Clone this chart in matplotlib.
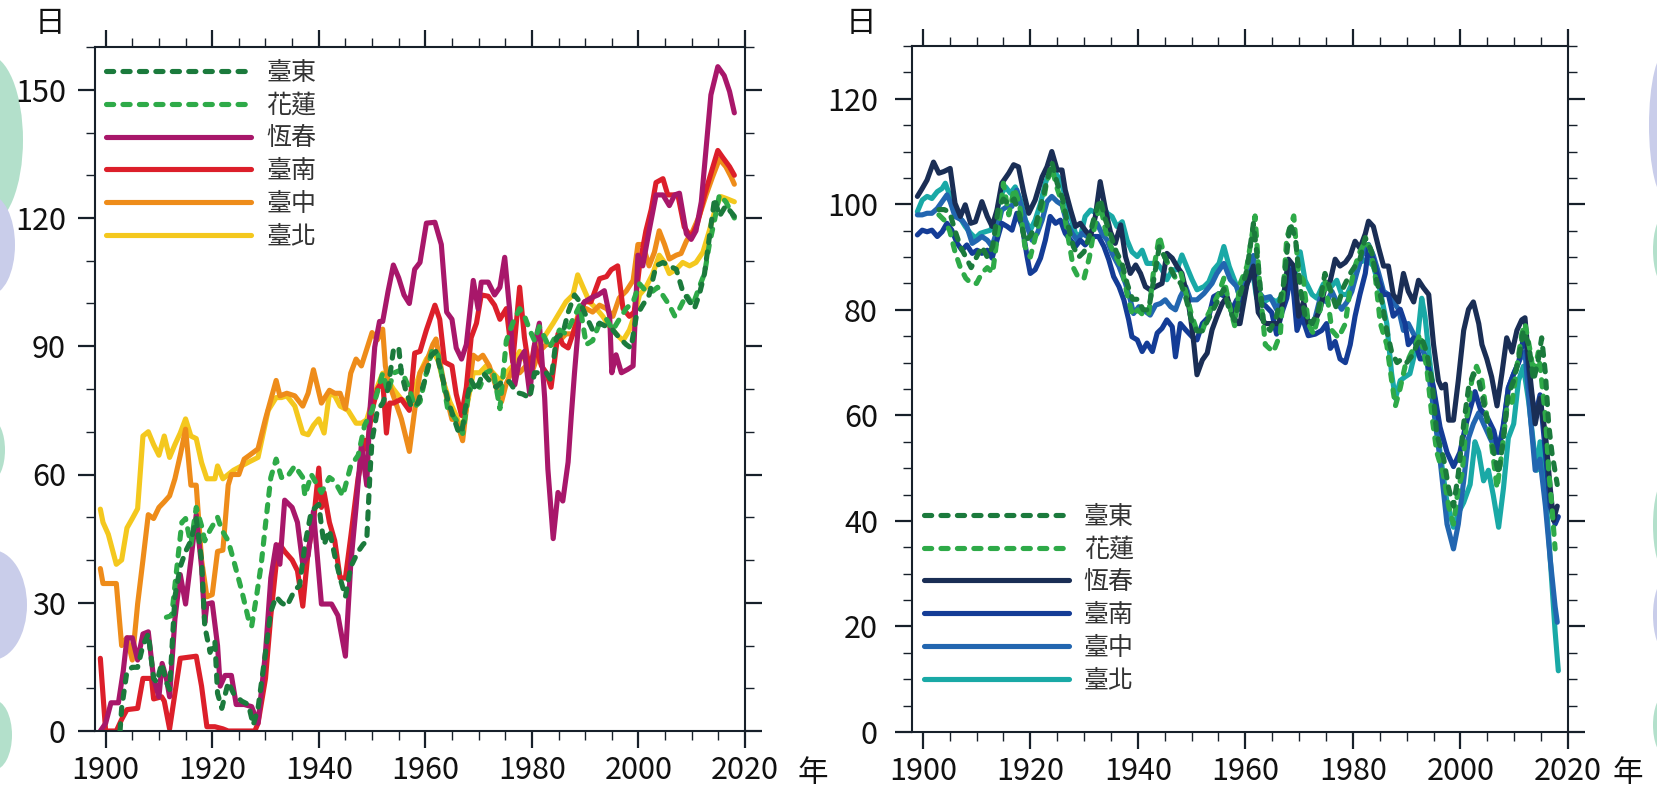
import matplotlib.pyplot as plt
from matplotlib.patches import Ellipse
from matplotlib.ticker import MultipleLocator

plt.rcParams['font.family'] = ['Noto Sans CJK TC', 'DejaVu Sans']

stations = ['臺東', '花蓮', '恆春', '臺南', '臺中', '臺北']

# ---- left panel: days per year ----
l_taitung_yr = [1902.7, 1903, 1904, 1905, 1906, 1907, 1908, 1909, 1909.6, 1910.5, 1911.4, 1912, 1913, 1914, 1915,
                1916, 1917, 1918, 1918.6, 1919.6, 1920.5, 1921, 1921.8, 1923, 1924, 1925.5, 1926.8, 1927.7, 1928.6,
                1930, 1931, 1932, 1933, 1934, 1935.5, 1936.4, 1937.4, 1938.6, 1940, 1940.5, 1941, 1942, 1943, 1944,
                1945, 1946, 1947.4, 1948.3, 1949, 1949.6, 1950, 1951, 1952, 1953, 1954, 1955, 1955.5, 1956.4, 1957.4,
                1958.6, 1959.9, 1961.1, 1962, 1963, 1964.3, 1965.2, 1966.1, 1966.8, 1967.7, 1968.6, 1969.6, 1970.8,
                1972, 1973.3, 1974.6, 1975.8, 1977.1, 1978.3, 1979.6, 1980.5, 1981.4, 1982.7, 1983.6, 1984.6, 1985.8,
                1986.8, 1988, 1989, 1990.2, 1991.4, 1992.7, 1994, 1995.2, 1996.4, 1997.7, 1998.6, 1999.6, 2000.8, 2002,
                2003.3, 2004.6, 2005.8, 2007.1, 2008.3, 2009.6, 2010.5, 2011.4, 2012.4, 2013.3, 2014.3, 2015.2, 2016.4,
                2018]
l_taitung = [0, 5.3, 14, 14.9, 14.9, 20, 22.7, 12.3, 11.4, 15.8, 11.4, 9.7, 31.4, 38.4, 42,
             44.5, 49.7, 40, 24.5, 18.4, 21, 8.8, 5.3, 11.4, 8.8, 7, 6.2, 1.4, 5.3,
             18.4, 28, 31.4, 30, 29.2, 33, 34, 43.6, 51.4, 53, 48, 43.6, 47, 41, 35.8,
             31.4, 38.4, 42, 43.6, 44.5, 60, 68, 75, 76.7, 80, 89, 89.8, 83.7, 79.3, 75.8,
             76.7, 82, 87.9, 88.8, 83.8, 77, 73.8, 70.4, 69.6, 77, 82, 79.6, 83.8,
             82, 80.4, 82, 81.7, 79.2, 78.8, 77.9, 83.8, 83.8, 83.8, 82, 92, 92.9,
             97.9, 102, 100.4, 97, 93.8, 95.4, 94.6, 93.8, 92, 90.4, 89.6, 97, 99.6, 102,
             108.8, 109.6, 108.8, 108, 102.9, 100.4, 98.8, 102, 107, 115.4, 124.6, 120.4, 122.9,
             120.4]

l_hualien_yr = [1911.4, 1912.4, 1913.3, 1914.3, 1915, 1916, 1917, 1918, 1918.6, 1919.6, 1921, 1921.8, 1923, 1924,
                1925.5, 1926.8, 1927.4, 1928.3, 1929.2, 1930.2, 1931, 1932, 1933, 1934, 1935.5, 1937, 1937.4, 1938.6,
                1940.5, 1942, 1943, 1944.5, 1946, 1947.4, 1948.6, 1950, 1951, 1952, 1953, 1954, 1955.5, 1957, 1958,
                1959, 1960.2, 1961.4, 1962.4, 1963.3, 1964.3, 1965.2, 1966.1, 1967, 1968, 1968.9, 1970.2, 1971.4,
                1972.7, 1974, 1975.2, 1976.4, 1977.7, 1978.6, 1979.6, 1980.5, 1981.4, 1982.4, 1983.3, 1984.3, 1985.2,
                1986.4, 1987.7, 1989, 1990.2, 1991.4, 1992.7, 1994, 1995.2, 1996.4, 1997.7, 1999, 2000.2, 2001.4,
                2002.7, 2003.6, 2004.9, 2005.8, 2006.8, 2007.7, 2009, 2010.2, 2011.4, 2012.4, 2013.3, 2014.3, 2015.2,
                2016.4, 2018]
l_hualien = [26.6, 27, 37.5, 48.8, 49.7, 43.6, 52.3, 48, 44.5, 47, 50, 47, 44.5, 40,
             33, 26.2, 24.5, 31.4, 39, 50.6, 59.3, 63.6, 59.3, 59.3, 62, 59.3, 55, 60,
             55.8, 59.3, 58.4, 55, 62, 64.5, 71.5, 75, 79.3, 83.7, 79.3, 83.7, 84.5, 80, 75.8,
             77, 83.8, 89.6, 87.9, 82, 74.6, 73.8, 72.1, 69.6, 77.9, 82, 80.4, 83.8,
             84.6, 75.4, 91.3, 95.4, 98.8, 97.1, 93.8, 91.3, 94.6, 92, 89.6, 92, 93.8,
             92.9, 96.3, 99.6, 90.4, 91.3, 95.4, 96.3, 93.8, 96.3, 98.8, 100.4, 104.6, 102.9,
             102.9, 103.8, 101.3, 99.6, 97.1, 98.8, 102, 99.6, 103.8, 107, 113.8, 119.6, 125.4,
             123.8, 120]

l_hengchun_yr = [1899, 1900, 1901, 1902.4, 1903.3, 1904, 1905, 1906, 1907, 1908, 1909, 1910, 1910.6, 1911.4, 1912,
                 1913, 1914, 1915, 1916, 1917, 1918, 1918.6, 1919, 1920, 1921, 1921.5, 1922.4, 1923.6, 1924.5, 1926,
                 1927.4, 1928.6, 1930, 1931, 1932, 1932.7, 1933.6, 1935, 1936, 1937, 1938, 1939, 1940.5, 1942.4,
                 1943.6, 1945, 1946, 1947, 1948, 1949, 1949.6, 1950.5, 1951.4, 1952, 1953, 1954, 1955, 1956, 1957,
                 1958, 1959, 1960.2, 1961.8, 1963, 1964, 1965, 1965.8, 1966.8, 1967.7, 1969, 1969.9, 1970.5, 1971.8,
                 1973, 1974, 1974.9, 1975.8, 1976.8, 1977.7, 1978.6, 1979.6, 1980.5, 1981.4, 1982.4, 1983, 1984,
                 1984.9, 1985.8, 1986.8, 1987.4, 1988, 1989, 1989.9, 1991.1, 1992.4, 1993.6, 1994.6, 1995, 1995.8,
                 1996.8, 1998, 1999, 1999.9, 2000.8, 2002, 2003.3, 2004.6, 2005.8, 2006.8, 2007.7, 2009, 2009.9,
                 2010.8, 2011.8, 2012.7, 2013.6, 2014.9, 2016.1, 2017.1, 2018]
l_hengchun = [0, 1.8, 6.6, 6.6, 14, 21.8, 21.8, 16.6, 22.7, 23.2, 12.3, 8, 15.8, 12.3, 8,
              26.2, 36.6, 29.7, 40, 50.6, 38.4, 25.3, 29.7, 30, 20, 10.5, 13, 13, 6.2, 6.2,
              5.7, 1.8, 18.4, 35.8, 43.6, 39, 54, 52.3, 48.8, 39, 41, 51.4, 29.7, 29.7,
              27, 17.5, 39, 52.3, 67, 57.5, 75, 89.8, 95.8, 95.8, 102.8, 109, 106, 102, 100,
              108, 109.6, 118.8, 119, 113.8, 98, 96.3, 89.6, 87, 90.4, 105.4, 98.8, 105, 105,
              102, 103.8, 110.8, 98.8, 81, 87, 88.8, 78.8, 90.4, 95.4, 77.9, 61.3, 45,
              55.8, 53.8, 62.9, 73.8, 83.8, 98.8, 100.4, 101.3, 102, 103, 97, 83.8, 88,
              83.8, 84.6, 85.4, 111.3, 108.8, 117, 125.4, 125.4, 122.9, 125.4, 125.8, 116.3, 115,
              117, 123.8, 136.3, 148.8, 155.4, 153.3, 149.6, 144.6]

l_tainan_yr = [1899, 1900, 1901, 1902, 1903, 1904, 1906, 1907, 1908.6, 1909, 1910.5, 1911, 1912, 1913, 1914,
               1917, 1918, 1919, 1920.5, 1922, 1923, 1925, 1927, 1928, 1928.6, 1930, 1931, 1932, 1932.7, 1933.6,
               1935, 1936, 1937, 1938, 1939, 1940, 1940.5, 1941, 1942, 1943, 1944, 1945, 1946, 1947.4, 1948,
               1948.6, 1949, 1950, 1951, 1952, 1952.7, 1953.3, 1954, 1955.5, 1957, 1958, 1959, 1960.2, 1961.8,
               1962.7, 1963.6, 1965, 1965.8, 1966.8, 1967.7, 1968.6, 1969.6, 1970.5, 1971.8, 1973, 1974, 1975.2,
               1976.4, 1977.7, 1978.6, 1979.6, 1980.5, 1981.8, 1982.7, 1983.6, 1984.9, 1985.8, 1986.8, 1987.7,
               1988.6, 1989.9, 1991.1, 1992.7, 1994, 1994.9, 1996.1, 1997.1, 1998.3, 1999.2, 2000.2, 2001.4,
               2002.4, 2003.3, 2004.6, 2005.5, 2006.4, 2007.4, 2008.6, 2009.9, 2011.1, 2012.4, 2013.6, 2014.9,
               2015.8, 2017.1, 2018]
l_tainan = [17, 0, 0, 0, 2.7, 5, 5.3, 12.3, 12.3, 7.5, 8, 7, 0.5, 8.8, 17,
            17.5, 10.5, 1, 1, 0.5, 0, 0, 0, 0, 1.8, 12.3, 27, 39, 43.6, 42,
            40, 37.5, 29.2, 42, 48.8, 61.5, 52.3, 55.8, 48.8, 44.5, 35.8, 35.8, 45.4, 59.3, 62.8,
            68, 66, 75, 80, 82, 69.7, 76.7, 76.7, 77.6, 75, 88.4, 88.8, 93.8, 99.6,
            96.3, 86.3, 85.4, 78.8, 73.8, 80.4, 92, 95.4, 102, 101.7, 99.6, 96.3, 98.8,
            86.3, 103.8, 92, 83.8, 90.4, 85.4, 83.8, 80.4, 92.9, 90.4, 89.6, 92.9,
            96.3, 100.4, 100.4, 105.8, 106.3, 107.9, 108.8, 98.8, 97, 98, 108.8, 117,
            122, 128.3, 129.2, 125.4, 125.4, 125.4, 117.9, 115.4, 118.8, 125.4, 130.4, 135.8,
            134.2, 132, 130]

l_taichung_yr = [1899, 1899.5, 1902, 1903, 1904, 1905, 1906, 1907, 1908, 1909, 1910, 1911, 1912, 1913, 1914, 1915,
                 1916, 1917, 1918, 1919, 1920, 1921, 1922, 1923, 1923.6, 1925, 1926, 1927, 1928.6, 1930, 1932,
                 1932.7, 1934, 1935.5, 1937, 1938, 1939, 1940.5, 1942, 1943, 1944, 1945, 1946, 1947, 1948, 1949,
                 1950, 1951, 1952, 1952.5, 1953, 1954, 1955.5, 1957, 1958, 1959, 1960.2, 1961.4, 1962, 1963, 1964,
                 1965, 1965.8, 1967, 1967.7, 1969, 1969.9, 1970.8, 1972, 1973.3, 1974.3, 1975.2, 1976.4, 1977.7,
                 1978.9, 1980.2, 1981.4, 1982.7, 1984, 1985.2, 1986.4, 1987.7, 1989, 1990.2, 1991.4, 1992.7, 1994,
                 1995.2, 1996.4, 1997.7, 1999, 1999.9, 2000.8, 2002, 2003, 2003.9, 2004.9, 2005.8, 2007.1, 2008,
                 2009, 2010.2, 2011.4, 2012.7, 2013.9, 2015.2, 2016.4, 2017.4, 2018]
l_taichung = [38, 34.5, 34.5, 20, 21.8, 16.6, 29.7, 40, 50.6, 49.7, 52.3, 53.6, 55, 59, 64.5, 70.6,
              57.5, 57.5, 40, 31.4, 31.9, 42, 42.3, 57.5, 60, 60, 63.6, 64.5, 66, 73, 82,
              78.4, 79, 78.4, 76, 79, 84.5, 76.7, 79.7, 79, 79, 75.4, 83.7, 87, 85.4, 89.3,
              93.2, 91.5, 94, 85.4, 82, 78.4, 73, 65.4, 75, 83.8, 86.3, 90.4, 91.7, 84.6, 77.9,
              72.9, 72.9, 67.9, 75.4, 87.9, 87, 87.9, 85.4, 80.4, 77, 81.3, 84.6, 83.8,
              85.4, 84.6, 88.8, 90.4, 90.4, 91.3, 92.9, 92.9, 98.8, 98.8, 98, 99.6, 98.8,
              97, 101.3, 102.9, 105.4, 113.8, 113.8, 108.8, 112, 117, 113.8, 110.4, 111.3, 111.7,
              114.6, 117, 120.4, 125.4, 129.6, 133.8, 132, 129.6, 127.9]

l_taipei_yr = [1899, 1899.5, 1900.5, 1902, 1903, 1904, 1905, 1906, 1907, 1908, 1909, 1910, 1911, 1912, 1913, 1914,
               1915, 1916, 1917, 1918, 1919, 1920.5, 1921, 1922, 1923, 1924, 1925.5, 1927, 1928.6, 1930.5, 1932,
               1933, 1934, 1935.5, 1937, 1938, 1939, 1940, 1941, 1942, 1943, 1944, 1945.5, 1947, 1948, 1949,
               1950.5, 1952, 1953, 1954, 1955.5, 1957, 1958, 1959, 1960.2, 1961.4, 1962.4, 1963.3, 1964.6, 1965.8,
               1966.8, 1967.7, 1969, 1970.2, 1971.4, 1972.7, 1974, 1975.2, 1976.4, 1977.7, 1978.9, 1980.2, 1981.4,
               1982.7, 1984, 1985.2, 1986.4, 1987.7, 1988.6, 1989.6, 1990.8, 1992.1, 1993.3, 1994.6, 1995.8,
               1997.1, 1998.3, 1999.2, 2000.2, 2001.4, 2002.7, 2003.9, 2004.9, 2005.8, 2007.1, 2008.3, 2009.6,
               2010.8, 2012.1, 2013.3, 2014.6, 2015.5, 2016.4, 2018]
l_taipei = [51.9, 48.8, 46, 39, 40, 47.5, 49.7, 52, 69, 70, 67, 64.5, 69, 64, 67, 69.7,
            73, 69, 68.4, 62.8, 59, 59, 62, 59, 60, 61, 62, 63, 64, 75, 78,
            78, 78.4, 76, 69.7, 69.3, 71.5, 73, 69.7, 79, 78.4, 76, 75, 72, 72, 72.8,
            79, 83.7, 82, 80, 77.6, 76.7, 80, 83.8, 87, 88.8, 86.7, 82, 77, 73.8,
            70.4, 75.4, 83.8, 83.8, 85.4, 83.8, 82, 83.8, 85.4, 88.8, 86.3, 87, 90.4,
            92.9, 95.4, 97.9, 100.4, 102, 106.7, 103.8, 100.4, 98.8, 97, 94.6, 92.9,
            91.3, 93.8, 97, 102, 103.8, 107, 111.3, 109.6, 107, 108, 109.6, 108.8,
            109.6, 112, 117, 122.9, 125, 124.6, 123.8]

# ---- right panel: days per year ----
r_taitung_yr = [1903, 1904, 1905, 1906, 1907, 1908, 1909, 1910, 1911, 1912, 1913, 1914, 1915, 1916, 1917, 1918,
                1919, 1920, 1921, 1922, 1923, 1924, 1925, 1926, 1927, 1928, 1929, 1930, 1931, 1932, 1933, 1934,
                1935, 1936, 1937, 1938, 1939, 1940, 1941, 1942, 1943, 1944, 1945, 1946, 1947, 1948, 1949, 1950,
                1951, 1952, 1953, 1954, 1955, 1956, 1957, 1958, 1959, 1960.3, 1961.5, 1962.4, 1963.4, 1964.6,
                1965.8, 1967.1, 1968.3, 1969.3, 1970.2, 1971.1, 1972.4, 1973.6, 1974.8, 1976.1, 1977, 1978.2,
                1979.5, 1980.4, 1981.3, 1982.3, 1983.5, 1984.4, 1985.4, 1986.3, 1987.2, 1988.2, 1989.1, 1990, 1991,
                1991.9, 1992.8, 1993.7, 1994.7, 1995.6, 1996.9, 1997.8, 1998.7, 1999.6, 2000.6, 2001.5, 2002.4,
                2003.4, 2004.3, 2005.2, 2006.2, 2007.1, 2008, 2008.9, 2009.9, 2010.8, 2011.7, 2012.7, 2013.6,
                2014.5, 2015.1, 2015.8, 2016.4, 2017, 2018]
r_taitung = [99, 99, 98.5, 95, 92, 90, 88, 90, 92, 90, 92, 99, 101, 100, 101, 98,
             93, 94, 96, 100, 104, 108, 104, 101, 96, 92, 90, 91, 94, 98, 101, 97,
             94, 91, 89, 85, 82, 82, 80, 80, 86, 92, 90, 88, 86, 85, 82, 78,
             76, 76, 78, 80, 82, 84, 80, 78, 82.9, 87.6, 96.4, 88.3, 77.4, 76.1,
             78.8, 84.9, 96.4, 93.7, 84.2, 78.8, 77.4, 80.1, 86.9, 82.9, 80.1, 84.2,
             86.9, 88.3, 89.6, 93.7, 91, 85.6, 81.5, 76.1, 72, 70, 70.7, 70, 71.3,
             73.4, 74.7, 72, 66.6, 56.4, 51.7, 46.2, 42.8, 48.9, 58.4, 65.2, 67.9,
             66.6, 62.5, 57.8, 53, 48.9, 55.7, 63.9, 66.6, 70.7, 76.1, 73.4, 66.6,
             70.7, 74.7, 67.9, 58.4, 53, 46.9]

r_hualien_yr = [1903, 1904, 1905, 1906, 1907, 1908, 1909, 1910, 1911, 1912, 1913, 1914, 1915, 1916, 1917, 1918,
                1919, 1920, 1921, 1922, 1923, 1924, 1925, 1926, 1927, 1928, 1929, 1930, 1931, 1932, 1933, 1934,
                1935, 1936, 1937, 1938, 1939, 1940, 1941, 1942, 1943, 1944, 1945, 1946, 1947, 1948, 1949, 1950,
                1951, 1952, 1953, 1954, 1955, 1956, 1957, 1958, 1959, 1960.3, 1961.8, 1962.7, 1963.7, 1965.2,
                1966.5, 1967.7, 1969, 1969.9, 1970.8, 1971.7, 1972.7, 1973.9, 1974.8, 1976.1, 1977.3, 1978.6,
                1979.5, 1980.4, 1981.3, 1982.3, 1983.2, 1984.1, 1985.1, 1986.3, 1987.2, 1987.9, 1988.8, 1989.7,
                1990.6, 1991.6, 1992.5, 1993.7, 1994.7, 1995.6, 1996.8, 1997.8, 1998.7, 1999.6, 2000.3, 2001.2,
                2002.1, 2003, 2004, 2004.9, 2005.8, 2006.8, 2007.7, 2008.6, 2009.6, 2010.5, 2011.4, 2012, 2013,
                2013.6, 2014.5, 2015.1, 2015.8, 2016.4, 2017, 2017.6]
r_hualien = [98, 97, 95, 91, 88, 86, 85, 85, 87, 88, 87, 95, 104, 98, 103, 100,
             92, 90, 94, 98, 104, 107, 103, 100, 94, 88, 86, 86, 90, 96, 100, 95,
             92, 90, 88, 83, 79, 80, 79, 79, 88, 94, 90, 88, 86, 87, 83, 79,
             76, 76, 79, 81, 83, 86, 81, 77, 84.9, 88.3, 97.8, 84.2, 73.4, 72,
             75.4, 93.7, 97.8, 86.9, 85.6, 77.4, 75.4, 80.1, 85.6, 76.1, 74.7, 77.4,
             84.2, 88.3, 91, 93, 91.7, 86.9, 77.4, 73.4, 66.6, 61.8, 65.2, 69.3,
             71.3, 73.4, 75.4, 69.3, 59.8, 53, 48.9, 42.8, 39.4, 46.2, 48.9, 59.8,
             66.6, 69.3, 66.6, 59.8, 54.4, 46.2, 53, 61.2, 62.5, 69.3, 75.4, 77.4, 72,
             67.9, 72, 66.6, 59.8, 49.6, 42.8, 34.7]

r_hengchun_yr = [1899, 1899.9, 1900.8, 1902, 1903, 1903.9, 1905.1, 1906, 1907, 1907.9, 1908.9, 1909.8, 1911, 1912,
                 1912.9, 1913.8, 1914.7, 1916, 1916.9, 1917.8, 1918.8, 1919.7, 1920.9, 1922.2, 1923.1, 1924, 1925,
                 1925.9, 1926.5, 1927.5, 1928.4, 1929.3, 1930.2, 1931.2, 1932.1, 1933, 1934, 1934.9, 1935.8, 1936.8,
                 1937.7, 1938.6, 1939.6, 1940.5, 1941.4, 1942.3, 1943.3, 1944.5, 1945.4, 1946.4, 1947.3, 1948.2,
                 1949.2, 1949.8, 1950.4, 1951, 1952, 1952.9, 1953.8, 1954.7, 1955.7, 1956.6, 1957.5, 1958.5, 1959,
                 1960.3, 1961.5, 1962.4, 1963.7, 1964.9, 1966.2, 1967.1, 1968, 1969, 1969.9, 1970.8, 1971.7, 1972.7,
                 1973.9, 1974.8, 1975.8, 1976.7, 1977.6, 1978.6, 1979.5, 1980.4, 1981.3, 1982.3, 1982.9, 1983.8,
                 1984.8, 1985.7, 1986.6, 1987.5, 1988.5, 1989.4, 1990.3, 1991.3, 1992.2, 1993.1, 1994.1, 1995,
                 1995.9, 1996.5, 1997.2, 1997.8, 1998.7, 1999.6, 2000.6, 2001.5, 2002.4, 2003.4, 2004, 2004.9,
                 2005.8, 2006.8, 2007.7, 2008.6, 2009.6, 2010.5, 2011.4, 2012, 2012.9, 2013.9, 2014.8, 2015.8,
                 2016.7, 2017.3, 2018]
r_hengchun = [101.5, 103, 104.6, 108, 105.9, 106.2, 106.8, 100.2, 97.7, 99.9, 96.4, 96.7, 100.5, 97.7,
              95.8, 98.9, 104, 105.9, 107.5, 107.1, 102.1, 98.3, 100.8, 105.2, 107.1, 110, 106.5,
              106.5, 102.7, 98.9, 95.8, 96.4, 95.1, 93.9, 97.7, 104.3, 98.9, 94.8, 92.6, 96.1,
              90.1, 86.9, 88.5, 86.9, 84.4, 83.8, 84.4, 85, 90.7, 89.8, 88.2, 86.9,
              82.5, 78.7, 73.7, 67.7, 70.5, 71.8, 76.2, 78.7, 81.2, 82.5, 79.3, 77.4, 77.4,
              84.9, 88.3, 79.5, 77.4, 77.4, 77.4, 82.2, 89.6, 88.3, 78.8, 81.5, 77.4, 77.4,
              80.1, 84.2, 85.6, 89.6, 88.3, 89, 90.3, 93, 91.7, 94.4, 96.8, 95.8,
              91.7, 88.3, 88.3, 82.9, 81.5, 86.9, 83.5, 81.5, 85.6, 84.2, 82.9, 73.4,
              66.6, 65.2, 65.9, 59.1, 59.1, 66.6, 76.1, 80.1, 81.5, 77.4, 73.4, 70.7,
              67.3, 61.8, 67.9, 74.7, 72, 76.1, 78.1, 78.5, 67.9, 58.4, 63.2, 56.4,
              46.2, 40.1, 42.8]

r_tainan_yr = [1899, 1899.9, 1900.8, 1901.7, 1902.7, 1903.6, 1904.5, 1905.4, 1906.4, 1907.3, 1908.2, 1909.2, 1910.1,
               1911, 1912, 1912.9, 1913.8, 1914.7, 1915.7, 1916.6, 1917.5, 1918.5, 1919.4, 1920, 1920.9, 1921.9,
               1922.8, 1923.7, 1924.7, 1925.6, 1926.5, 1927.5, 1928.4, 1929.3, 1930.2, 1931.5, 1932.7, 1933.7,
               1934.6, 1935.5, 1936.5, 1937.4, 1938.3, 1938.9, 1939.9, 1940.8, 1941.7, 1942.7, 1943.6, 1944.5,
               1945.4, 1946.4, 1947, 1947.9, 1948.9, 1950.1, 1951, 1952, 1953.2, 1954.1, 1955.1, 1956.3, 1957.5,
               1958.4, 1959, 1960.3, 1961.5, 1962.4, 1963.7, 1964.9, 1965.8, 1966.8, 1967.7, 1968.6, 1969.6,
               1970.5, 1971.7, 1973, 1974.2, 1975.1, 1975.8, 1976.7, 1977.6, 1978.6, 1979.5, 1980.4, 1981.3,
               1982.3, 1982.9, 1983.8, 1984.8, 1985.7, 1986.6, 1987.5, 1988.8, 1989.7, 1990.3, 1991.3, 1992.5,
               1993.7, 1995, 1996.2, 1997.5, 1998.7, 1999.9, 2000.9, 2001.8, 2002.7, 2003.7, 2004.9, 2006.2,
               2007.1, 2008, 2008.9, 2009.9, 2010.8, 2012, 2013, 2013.9, 2014.8, 2015.8, 2016.7, 2017.6, 2018.2]
r_tainan = [94.2, 95.1, 94.8, 95.1, 93.9, 94.8, 96.4, 95.1, 92.6, 91.3, 92.3, 90.7, 91.3,
            90.7, 91.3, 89.8, 93.2, 96.4, 95.8, 95.1, 98.3, 95.8, 90.1, 86.9, 87.6, 89.8,
            93.2, 97.7, 96.4, 97, 94.5, 93.2, 92, 93.2, 92.3, 93.9, 93.9, 92,
            89.5, 86.3, 84.4, 81.9, 78.1, 74.9, 74.3, 72.1, 73.7, 72.1, 75.6, 76.5,
            78.1, 76.8, 71.1, 77.4, 76.2, 74.9, 74.3, 77.4, 78.7, 82.5, 83.1, 82.5, 80,
            81.9, 80.1, 84.9, 87.6, 81.5, 80.8, 79.5, 75.4, 79.5, 82.2, 87.6, 76.1,
            78.8, 75.1, 75.4, 76.1, 77.4, 72.7, 74, 70.7, 70, 73.4, 78.8, 82.9,
            86.9, 91.7, 89.6, 85.6, 82.9, 82.9, 78.8, 80.1, 77.4, 73.4, 74.7, 70.7,
            70.7, 65.2, 57.8, 53, 50.3, 53, 57.8, 61.2, 64.5, 61.2, 59.8, 57.1,
            53, 58.4, 65.2, 67.9, 70, 76.1, 65.2, 59.8, 63.9, 53, 42.8, 39.4, 40.8]

r_taichung_yr = [1899, 1899.9, 1900.8, 1901.7, 1902.7, 1903.6, 1904.5, 1905.1, 1906, 1907.3, 1908.2, 1909.2, 1910.1,
                 1911, 1912, 1912.9, 1913.8, 1914.7, 1915.7, 1916.6, 1917.5, 1918.5, 1919.4, 1920.3, 1921.3, 1922.2,
                 1923.1, 1924, 1925, 1925.9, 1926.8, 1927.8, 1928.7, 1929.6, 1930.6, 1931.5, 1932.4, 1933.3, 1934.3,
                 1935.2, 1936.5, 1937.7, 1938.6, 1939.2, 1940.2, 1941.4, 1942.3, 1943.3, 1944.2, 1945.1, 1946.1,
                 1947, 1947.9, 1948.9, 1949.8, 1951, 1952.3, 1953.8, 1954.7, 1956, 1957.2, 1958.4, 1959, 1960.3,
                 1961.5, 1962.4, 1963.4, 1964.6, 1965.8, 1967.1, 1968.3, 1969.3, 1970.2, 1971.4, 1972.7, 1973.9,
                 1975.1, 1976.1, 1977, 1977.9, 1978.9, 1979.8, 1980.7, 1981.7, 1982.9, 1983.8, 1984.8, 1985.7,
                 1986.6, 1987.5, 1988.5, 1989.4, 1990.3, 1991.3, 1992.5, 1993.7, 1995, 1996.2, 1997.5, 1998.7,
                 1999.6, 2000.6, 2001.5, 2002.4, 2003.4, 2004.3, 2005.5, 2006.8, 2008, 2008.9, 2009.9, 2011.1,
                 2012, 2013, 2013.9, 2014.8, 2015.8, 2016.7, 2017.6, 2018]
r_taichung = [98, 98, 98.3, 98.3, 99.2, 100.5, 101.8, 100.5, 97.7, 97, 95.8, 92.6, 93.2,
              93.9, 93.2, 92, 95.1, 98.9, 99.6, 99.6, 102.7, 98.9, 95.8, 93.2, 94.5, 97,
              100.5, 101.5, 100.5, 99.9, 96.4, 94.5, 93.2, 94.5, 93.9, 95.1, 96.4, 94.5, 93.2,
              90.7, 88.2, 85, 81.9, 79.3, 80.6, 79.7, 79, 80.9, 81.2, 81.9, 80.6,
              80, 82.5, 84.4, 81.9, 81.9, 83.1, 85, 86.9, 88.8, 85.7, 84.4, 82.2, 86.9,
              90.3, 83.5, 82.2, 82.5, 80.1, 82.2, 88.3, 81.5, 78.8, 78.1, 77.4, 82.2,
              81.5, 83.5, 81.5, 80.1, 81.5, 83.5, 86.9, 90.3, 92.4, 90.3, 86.9, 83.5,
              82.9, 81.5, 80.1, 76.1, 77.4, 75.4, 73.4, 70.7, 61.2, 51.7, 39.4, 34.7,
              39.4, 47.6, 55.7, 58.4, 60.5, 58.4, 55.7, 53, 57.8, 65.2, 67.9, 70.7,
              72, 59.8, 49.6, 51.7, 42.8, 32.7, 23.8, 20.8]

r_taipei_yr = [1899, 1899.9, 1900.8, 1901.7, 1902.7, 1903.6, 1904.2, 1905.1, 1906, 1907, 1907.9, 1908.9, 1909.8,
               1910.7, 1911.6, 1912.6, 1913.5, 1914.4, 1915.4, 1916.3, 1917.2, 1918.2, 1919.1, 1920, 1920.9,
               1921.9, 1922.8, 1923.7, 1924.7, 1925.6, 1926.5, 1927.5, 1928.4, 1929.3, 1930.2, 1931.2, 1932.4,
               1933.3, 1934.3, 1935.2, 1936.1, 1937.1, 1938, 1938.9, 1939.9, 1940.8, 1941.7, 1942.7, 1943.6,
               1944.5, 1945.4, 1946.4, 1947.3, 1948.2, 1949.2, 1950.1, 1951, 1952.3, 1953.2, 1954.1, 1955.1,
               1956, 1957, 1958.2, 1959, 1960.3, 1961.2, 1962.1, 1963.4, 1964.6, 1965.8, 1967.1, 1968, 1969,
               1970.2, 1971.1, 1972.4, 1973.3, 1974.5, 1975.8, 1977, 1977.9, 1978.9, 1980.1, 1981.3, 1982.6,
               1983.8, 1985.1, 1986.3, 1987.2, 1987.9, 1988.8, 1989.7, 1990.6, 1991.9, 1992.8, 1993.4, 1994.4,
               1995.3, 1996.2, 1997.5, 1998.7, 1999.6, 2000.6, 2001.8, 2002.7, 2003.4, 2004.3, 2005.2, 2006.1,
               2007.1, 2008, 2008.9, 2009.9, 2010.8, 2011.7, 2012.7, 2013.6, 2014.2, 2014.8, 2015.8, 2016.7,
               2017.6, 2018.2]
r_taipei = [98.6, 100.8, 101.5, 101.1, 102.4, 103, 104, 101.5, 98.9, 97.3, 95.8, 94.5, 93.6,
            94.5, 94.8, 95.1, 97, 101.5, 103.3, 102.1, 103.3, 100.8, 97, 95.1, 97,
            100.2, 104, 106.5, 105.9, 104.6, 101.5, 97.7, 94.5, 93.9, 97.7, 98.9, 98.3,
            100.2, 98.3, 97.7, 95.8, 96.7, 93.2, 91, 90.1, 91.3, 88.8, 88.8, 88.8,
            87.6, 85.7, 87.6, 87.6, 90.4, 87.9, 85.7, 83.8, 84.4, 85.3, 87.6, 88.8,
            92, 88.2, 85, 82.2, 86.3, 88.3, 82.2, 81.5, 82.2, 81.5, 82.9, 88.3, 85.6,
            91, 85.6, 82.9, 82.2, 84.9, 84.2, 85.6, 82.9, 82.9, 85.6, 89, 89.6,
            88.3, 83.5, 77.4, 67.9, 63.2, 66.6, 67.3, 67.9, 73.4, 82.2, 78.8, 69.3,
            62.5, 53, 43.5, 38.8, 41.5, 43.5, 46.9, 55, 53, 47.6, 49.6, 44.9,
            38.8, 46.2, 55.7, 58.4, 66.6, 69.3, 62.5, 54.4, 49.6, 55, 46.2, 32.7,
            19.1, 11.6]

left_years = [l_taitung_yr, l_hualien_yr, l_hengchun_yr, l_tainan_yr, l_taichung_yr, l_taipei_yr]
left_vals = [l_taitung, l_hualien, l_hengchun, l_tainan, l_taichung, l_taipei]
right_years = [r_taitung_yr, r_hualien_yr, r_hengchun_yr, r_tainan_yr, r_taichung_yr, r_taipei_yr]
right_vals = [r_taitung, r_hualien, r_hengchun, r_tainan, r_taichung, r_taipei]

left_colors = ['#1b7a3c', '#2eaa48', '#a8176a', '#dc1f2a', '#ee8c1a', '#f4c81e']
right_colors = ['#1b7a3c', '#2eaa48', '#1a2e55', '#143c96', '#2266b0', '#19a9a6']
dashed = [True, True, False, False, False, False]
zorders = [2.6, 2.5, 2.4, 2.3, 2.2, 2.1]

W, H = 1657, 791
fig = plt.figure(figsize=(W / 100, H / 100), dpi=100)

# soft page decoration on the edges
deco = [(-12, 140, 70, 170, '#b3e0cb'), (-10, 245, 50, 100, '#c9cdea'), (-8, 450, 26, 60, '#b3e0cb'),
        (-8, 605, 70, 110, '#c9cdea'), (-6, 735, 36, 70, '#b3e0cb'),
        (W + 10, 125, 36, 150, '#c9cdea'), (W + 8, 250, 24, 70, '#b3e0cb'), (W + 8, 525, 24, 90, '#b3e0cb'),
        (W + 8, 615, 24, 70, '#c9cdea'), (W + 8, 725, 24, 60, '#b3e0cb')]
for cx, cy, w, h, c in deco:
    fig.add_artist(Ellipse((cx / W, 1 - cy / H), w / W, h / H, transform=fig.transFigure,
                           facecolor=c, edgecolor='none', zorder=0))

ax1 = fig.add_axes([95 / W, 1 - 731 / H, 650 / W, 684 / H])
ax2 = fig.add_axes([912 / W, 1 - 732 / H, 656 / W, 686 / H])

spine_col = '#17202a'
for ax, years, vals, colors, ymax, ymaj, ymin, ypad in [
        (ax1, left_years, left_vals, left_colors, 160, 30, 10, 8.5),
        (ax2, right_years, right_vals, right_colors, 130, 20, 5, 12)]:
    for i in range(6):
        kw = dict(color=colors[i], lw=3.7, zorder=zorders[i], label=stations[i],
                  solid_capstyle='round', solid_joinstyle='round')
        if dashed[i]:
            kw.update(linestyle=(0, (1.4, 1.8)), dash_capstyle='round')
        ax.plot(years[i], vals[i], **kw)
    ax.set_xlim(1898, 2020)
    ax.set_ylim(0, ymax)
    ax.xaxis.set_major_locator(MultipleLocator(20))
    ax.xaxis.set_minor_locator(MultipleLocator(5))
    ax.yaxis.set_major_locator(MultipleLocator(ymaj))
    ax.yaxis.set_minor_locator(MultipleLocator(ymin))
    ax.tick_params(which='both', direction='out', top=True, right=True, colors=spine_col,
                   labelcolor='#111111', labelsize=22)
    ax.tick_params(which='major', length=12.5, width=1.6)
    ax.tick_params(which='minor', length=6.5, width=1.0)
    ax.tick_params(axis='x', pad=5)
    ax.tick_params(axis='y', pad=ypad)
    for s in ax.spines.values():
        s.set_color(spine_col)
        s.set_linewidth(1.5)
    ax.set_facecolor('none')

leg_kw = dict(loc='upper left', frameon=False, fontsize=18, handlelength=5.8, handletextpad=0.6,
              labelspacing=0.27, borderpad=0, borderaxespad=0, labelcolor='#333333')
ax1.legend(bbox_to_anchor=(0.017, 0.981), **leg_kw)
ax2.legend(bbox_to_anchor=(0.018, 0.333), **leg_kw)

for x in (50, 861):
    fig.text(x / W, 1 - 23 / H, '日', ha='center', va='center', fontsize=22, color='#111111')
for x in (813, 1628):
    fig.text(x / W, 1 - 773 / H, '年', ha='center', va='center', fontsize=22, color='#111111')

fig.savefig('out.png', dpi=100)
